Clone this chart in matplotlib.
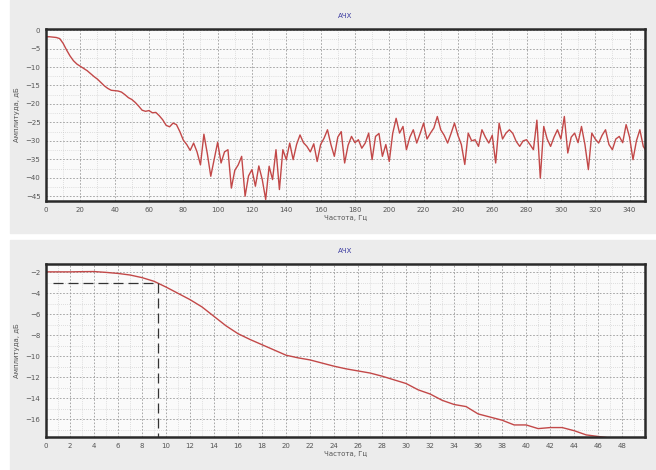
import matplotlib.pyplot as plt
from matplotlib.patches import Rectangle
from matplotlib.ticker import MultipleLocator

# верхний график: АЧХ 0..350 Гц, шаг 2 Гц
freq_top = list(range(0, 352, 2))
amp_top = [-1.8, -1.8, -1.9, -2.0, -2.3, -3.6, -5.4, -7.0, -8.3, -9.2,
           -9.8, -10.4, -11.0, -11.8, -12.6, -13.3, -14.2, -15.1, -15.8, -16.3,
           -16.4, -16.5, -16.8, -17.5, -18.3, -18.8, -19.6, -20.6, -21.7, -22.0,
           -21.8, -22.4, -22.3, -23.2, -24.3, -25.8, -26.2, -25.2, -25.6, -27.5,
           -29.8, -31.0, -32.6, -30.6, -33.0, -36.5, -28.2, -33.5, -39.6, -35.0,
           -30.4, -36.0, -33.0, -32.4, -42.8, -38.0, -36.5, -34.2, -45.0, -39.5,
           -37.8, -42.3, -36.8, -40.5, -45.9, -36.9, -40.5, -32.4, -43.2, -32.4,
           -35.1, -30.6, -35.1, -31.0, -28.4, -30.5, -31.5, -33.0, -30.8, -35.6,
           -31.0, -29.3, -27.0, -31.0, -34.2, -29.0, -27.5, -36.0, -31.2, -28.8,
           -30.5, -29.7, -32.0, -30.6, -27.9, -35.1, -28.8, -28.0, -34.2, -31.0,
           -35.6, -28.0, -23.9, -27.9, -26.1, -32.4, -29.0, -27.0, -30.6, -28.0,
           -25.2, -29.5, -27.9, -26.5, -23.4, -27.0, -28.5, -30.6, -28.0, -25.2,
           -28.5, -31.0, -36.4, -27.9, -30.0, -29.7, -31.5, -27.0, -29.0, -30.6,
           -28.5, -36.0, -25.2, -29.5, -27.9, -27.0, -28.0, -30.2, -31.5, -30.0,
           -29.7, -31.0, -32.4, -24.4, -40.1, -26.1, -29.5, -31.5, -29.0, -27.0,
           -29.5, -23.4, -33.3, -29.0, -27.9, -30.5, -26.1, -31.0, -37.8, -27.9,
           -29.5, -30.6, -28.5, -27.0, -31.0, -32.4, -29.5, -28.8, -30.5, -25.6,
           -29.0, -35.1, -30.0, -27.0, -31.5, -33.0]

# нижний график: АЧХ 0..47 Гц, шаг 1 Гц
freq_bot = list(range(0, 48))
amp_bot = [-1.95, -1.95, -1.95, -1.93, -1.92, -2.0, -2.1, -2.25, -2.5, -2.85,
           -3.4, -4.0, -4.6, -5.3, -6.2, -7.1, -7.85, -8.4, -8.9, -9.4,
           -9.9, -10.15, -10.35, -10.65, -10.95, -11.2, -11.4, -11.6, -11.9, -12.25,
           -12.6, -13.2, -13.6, -14.2, -14.6, -14.8, -15.5, -15.8, -16.1, -16.55,
           -16.55, -16.9, -16.8, -16.8, -17.1, -17.5, -17.65, -17.8]

cut_freq = 9.3
cut_level = -3.0

title = 'АЧХ'
xlabel = 'Частота, Гц'
ylabel = 'Амплитуда, дБ'

line_c = '#c24848'
panel_c = '#ececec'

fig = plt.figure(figsize=(6.56, 4.70), dpi=100, facecolor='white')
fig.patches.append(Rectangle((10/656, 1-233/470), 1, 233/470, transform=fig.transFigure,
                             color=panel_c, zorder=-10))
fig.patches.append(Rectangle((10/656, 0), 1, 1-240/470, transform=fig.transFigure,
                             color=panel_c, zorder=-10))

ax1 = fig.add_axes([46/656, 1-201/470, 599/656, 172/470])
ax2 = fig.add_axes([46/656, 1-437/470, 599/656, 173/470])


def style(ax):
    ax.set_facecolor('#fafafa')
    for s in ax.spines.values():
        s.set_color('#2a2a2a')
        s.set_linewidth(1.8)
    ax.grid(which='major', color='#9a9a9a', linestyle=(0, (2, 2)), linewidth=0.6)
    ax.grid(which='minor', color='#c4c4c4', linestyle=(0, (1, 2)), linewidth=0.5)
    ax.tick_params(which='both', length=0, labelsize=5, labelcolor='#555555', pad=4)
    ax.set_title(title, fontsize=5, color='#3a3aa0', pad=8)
    ax.set_xlabel(xlabel, fontsize=5, color='#555555', labelpad=2)
    ax.set_ylabel(ylabel, fontsize=5, color='#555555', labelpad=4)


ax1.plot(freq_top, amp_top, color=line_c, linewidth=1.0)
ax1.set_xlim(0, 349)
ax1.set_ylim(-46.3, 0.3)
ax1.xaxis.set_major_locator(MultipleLocator(20))
ax1.xaxis.set_minor_locator(MultipleLocator(10))
ax1.yaxis.set_major_locator(MultipleLocator(5))
ax1.yaxis.set_minor_locator(MultipleLocator(2.5))
style(ax1)

ax2.plot(freq_bot, amp_bot, color=line_c, linewidth=1.0)
ax2.plot([0.6, cut_freq], [cut_level, cut_level], color='#333333',
         linestyle=(0, (8, 4)), linewidth=0.9)
ax2.plot([cut_freq, cut_freq], [cut_level, -17.7], color='#333333',
         linestyle=(0, (8, 4)), linewidth=0.9)
ax2.set_xlim(0, 49.9)
ax2.set_ylim(-17.7, -1.2)
ax2.xaxis.set_major_locator(MultipleLocator(2))
ax2.xaxis.set_minor_locator(MultipleLocator(1))
ax2.yaxis.set_major_locator(MultipleLocator(2))
ax2.yaxis.set_minor_locator(MultipleLocator(1))
style(ax2)

fig.savefig('out.png', dpi=100, facecolor=fig.get_facecolor())
